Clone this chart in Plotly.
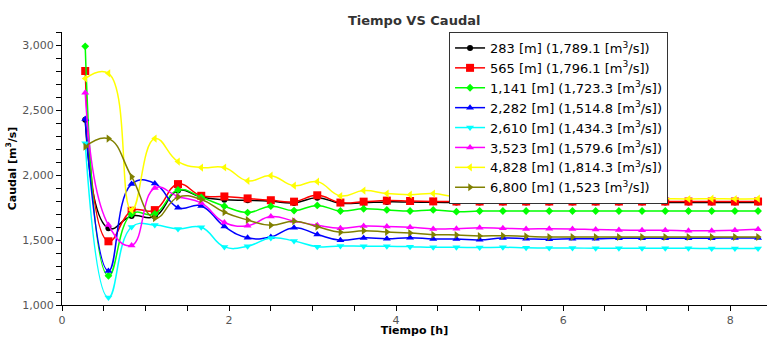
import plotly.graph_objects as go

# Time [h]
tiempo = [0.278, 0.556, 0.833, 1.111, 1.389, 1.667, 1.944, 2.222, 2.5, 2.778,
          3.056, 3.333, 3.611, 3.889, 4.167, 4.444, 4.722, 5.0, 5.278, 5.556,
          5.833, 6.111, 6.389, 6.667, 6.944, 7.222, 7.5, 7.778, 8.056, 8.333]

s283 = [2425, 1590, 1685, 1680, 1880, 1830, 1810, 1805, 1798, 1785,
        1825, 1783, 1787, 1793, 1792, 1790, 1789, 1789, 1789, 1789,
        1789, 1789, 1789, 1789, 1789, 1789, 1789, 1789, 1789, 1789]
s565 = [2800, 1490, 1725, 1730, 1930, 1840, 1835, 1820, 1806, 1795,
        1844, 1788, 1795, 1803, 1800, 1797, 1796, 1796, 1796, 1796,
        1796, 1796, 1796, 1796, 1796, 1796, 1796, 1796, 1796, 1796]
s1141 = [2990, 1225, 1700, 1700, 1885, 1828, 1760, 1711, 1760, 1726,
         1766, 1723, 1740, 1731, 1723, 1731, 1718, 1723, 1723, 1723,
         1723, 1723, 1723, 1723, 1723, 1723, 1723, 1723, 1723, 1723]
s2282 = [2430, 1262, 1930, 1935, 1749, 1762, 1604, 1517, 1523, 1595,
         1543, 1498, 1516, 1510, 1518, 1508, 1508, 1501, 1516, 1510,
         1505, 1510, 1510, 1513, 1513, 1514, 1514, 1514, 1515, 1515]
s2610 = [2245, 1057, 1600, 1615, 1585, 1598, 1447, 1452, 1515, 1493,
         1449, 1454, 1452, 1452, 1449, 1444, 1444, 1442, 1444, 1440,
         1438, 1438, 1437, 1437, 1437, 1436, 1436, 1435, 1435, 1435]
s3523 = [2633, 1615, 1458, 1900, 1835, 1785, 1635, 1610, 1680, 1646,
         1613, 1590, 1608, 1603, 1598, 1585, 1587, 1595, 1590, 1585,
         1587, 1585, 1580, 1577, 1575, 1575, 1572, 1572, 1575, 1582]
s4828 = [2742, 2782, 1730, 2280, 2103, 2057, 2058, 1955, 1995, 1918,
         1949, 1839, 1880, 1857, 1849, 1857, 1833, 1836, 1828, 1833,
         1818, 1818, 1821, 1823, 1821, 1818, 1816, 1818, 1816, 1818]
s6800 = [2218, 2280, 1987, 1668, 1830, 1812, 1713, 1654, 1613, 1644,
         1602, 1559, 1572, 1562, 1554, 1541, 1539, 1531, 1533, 1528,
         1523, 1523, 1523, 1523, 1523, 1523, 1523, 1523, 1523, 1523]

labels = ["283 [m] (1,789.1 [m<sup>3</sup>/s])",
          "565 [m] (1,796.1 [m<sup>3</sup>/s])",
          "1,141 [m] (1,723.3 [m<sup>3</sup>/s])",
          "2,282 [m] (1,514.8 [m<sup>3</sup>/s])",
          "2,610 [m] (1,434.3 [m<sup>3</sup>/s])",
          "3,523 [m] (1,579.6 [m<sup>3</sup>/s])",
          "4,828 [m] (1,814.3 [m<sup>3</sup>/s])",
          "6,800 [m] (1,523 [m<sup>3</sup>/s])"]
series = [s283, s565, s1141, s2282, s2610, s3523, s4828, s6800]
colors = ["#000000", "#ff0000", "#00ff00", "#0000ff", "#00ffff", "#ff00ff", "#ffff00", "#808000"]
symbols = ["circle", "square", "diamond", "triangle-up", "triangle-down",
           "triangle-up", "triangle-left", "triangle-right"]
sizes = [6, 8, 6, 7, 7, 7, 7, 7]

fig = go.Figure()
for lab, ys, c, sym, sz in zip(labels, series, colors, symbols, sizes):
    fig.add_trace(go.Scatter(
        x=tiempo, y=ys, name=lab, mode="lines+markers",
        line=dict(color=c, width=1.5, shape="spline", smoothing=1.3),
        marker=dict(color=c, symbol=sym, size=sz),
    ))

axis_common = dict(
    showline=True, linecolor="black", linewidth=1,
    ticks="outside", ticklen=5, tickcolor="black",
    showgrid=False, zeroline=False,
    tickfont=dict(family="DejaVu Sans", size=11, color="#555555"),
)

fig.update_layout(
    width=767, height=337,
    margin=dict(l=62, r=0, t=32, b=32),
    paper_bgcolor="white", plot_bgcolor="white",
    font=dict(family="DejaVu Sans", color="black"),
    title=dict(text="<b>Tiempo VS Caudal</b>", x=0.54, xanchor="center",
               y=1 - 20 / 337, yanchor="middle", yref="container",
               font=dict(size=13, color="#333333")),
    xaxis=dict(range=[0, 8.44], tick0=0, dtick=2,
               minor=dict(dtick=0.5, ticks="outside", ticklen=5, tickcolor="black", showgrid=False),
               title=dict(text="<b>Tiempo [h]</b>", font=dict(size=11), standoff=2),
               **axis_common),
    yaxis=dict(range=[1000, 3100], tick0=1000, dtick=500, tickformat=",",
               minor=dict(dtick=100, ticks="outside", ticklen=5, tickcolor="black", showgrid=False),
               title=dict(text="<b>Caudal [m<sup>3</sup>/s]</b>", font=dict(size=11), standoff=3),
               **axis_common),
    legend=dict(x=0.549, y=1.0, xanchor="left", yanchor="top",
                bgcolor="white", bordercolor="#333333", borderwidth=1,
                font=dict(family="DejaVu Sans", size=13, color="black"),
                tracegroupgap=0, itemwidth=30),
    showlegend=True,
)

fig.write_html("out.html")
